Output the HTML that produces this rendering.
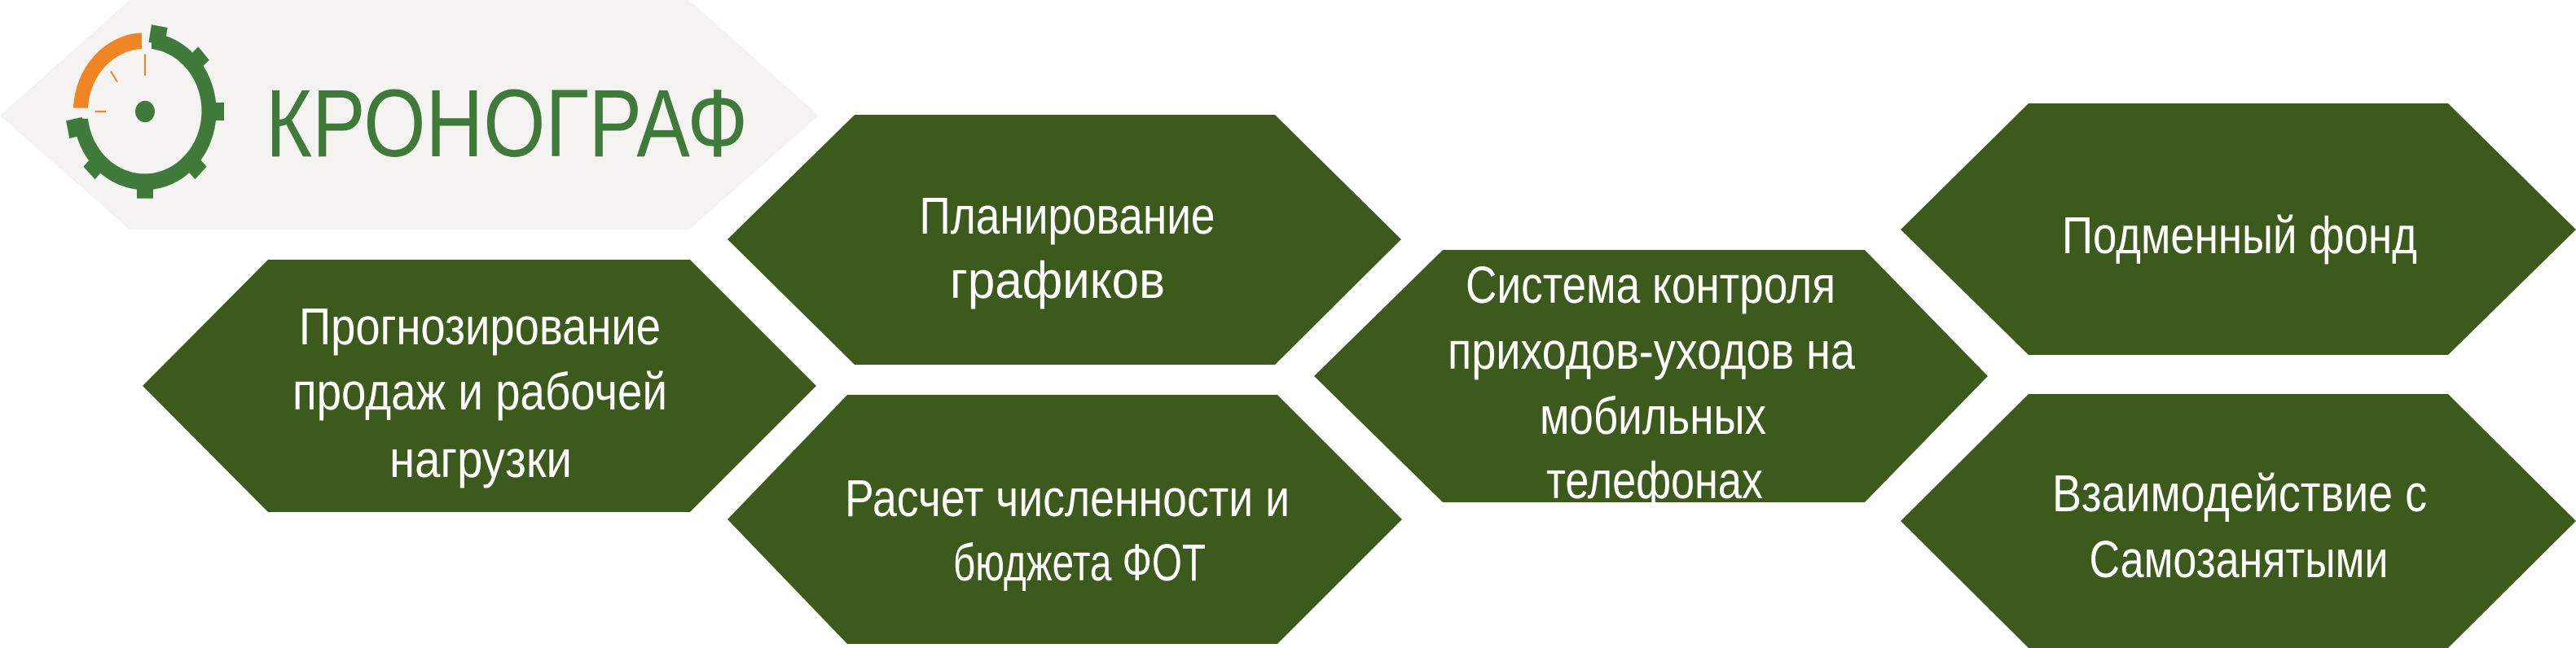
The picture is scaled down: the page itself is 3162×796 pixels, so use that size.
<!DOCTYPE html>
<html><head><meta charset="utf-8"><style>
html,body{margin:0;padding:0;background:#fff;}
svg{display:block}
</style></head><body>
<svg width="3162" height="796" viewBox="0 0 3162 796" xmlns="http://www.w3.org/2000/svg">
<polygon points="0,142 159,0 846,0 1005,142 846,282 159,282" fill="#f4f3f1"/>
<!-- gear -->
<g transform="translate(178,137) scale(1,1.1)">
  <g fill="#3f7a3a">
    <rect x="-9" y="-97" width="20" height="20" transform="rotate(10)"/>
    <rect x="-10" y="-97" width="20" height="20" transform="rotate(48)"/>
    <rect x="-10" y="-97" width="20" height="20" transform="rotate(90)"/>
    <rect x="-10" y="-97" width="20" height="20" transform="rotate(135)"/>
    <rect x="-10" y="-97" width="20" height="20" transform="rotate(180)"/>
    <rect x="-10" y="-97" width="20" height="20" transform="rotate(225)"/>
    <rect x="-10" y="-97" width="20" height="20" transform="rotate(258)"/>
  </g>
  <path d="M 8 -88 A 88 88 0 1 1 -88 8 L -70 8 A 70 70 0 1 0 8 -70 Z" fill="#3f7a3a"/>
  <path d="M -88 -4 A 88 88 0 0 1 -4 -88 L -4 -70 A 70 70 0 0 0 -70 -4 Z" fill="#ef8523"/>
  <ellipse cx="0" cy="0" rx="12" ry="12" fill="#3f7a3a"/>
  <line x1="0" y1="-64" x2="0" y2="-40" stroke="#ef8523" stroke-width="2"/>
  <line x1="-42" y1="-45" x2="-34" y2="-33" stroke="#ef8523" stroke-width="2"/>
  <line x1="-61" y1="0" x2="-48" y2="0" stroke="#ef8523" stroke-width="2"/>
</g>
<text x="326" y="192" font-family="Liberation Sans, sans-serif" font-size="118" fill="#3f7a3a" textLength="592" lengthAdjust="spacingAndGlyphs">КРОНОГРАФ</text>

<g fill="#3b5a1c">
<polygon points="175,474 329,319 847,319 1002,474 847,629 329,629"/>
<polygon points="893,294 1049,141 1565,141 1720,294 1565,448 1049,448"/>
<polygon points="893,638 1040,485 1568,485 1721,638 1568,791 1040,791"/>
<polygon points="1613,462 1771,307 2289,307 2440,462 2289,617 1771,617"/>
<polygon points="2333,282 2490,127 3005,127 3162,282 3005,436 2490,436"/>
<polygon points="2333,640 2490,484 3005,484 3162,640 3005,796 2490,796"/>
</g>
<g font-family="Liberation Sans, sans-serif" font-size="64" fill="#fff" text-anchor="middle">
<text x="589" y="423" textLength="444" lengthAdjust="spacingAndGlyphs">Прогнозирование</text>
<text x="589" y="503" textLength="460" lengthAdjust="spacingAndGlyphs">продаж и рабочей</text>
<text x="590" y="586" textLength="224" lengthAdjust="spacingAndGlyphs">нагрузки</text>

<text x="1310" y="287" textLength="363" lengthAdjust="spacingAndGlyphs">Планирование</text>
<text x="1298" y="366" textLength="264" lengthAdjust="spacingAndGlyphs">графиков</text>

<text x="1310" y="634" textLength="546" lengthAdjust="spacingAndGlyphs">Расчет численности и</text>
<text x="1325" y="713" textLength="310" lengthAdjust="spacingAndGlyphs">бюджета ФОТ</text>

<text x="2026" y="372" textLength="454" lengthAdjust="spacingAndGlyphs">Система контроля</text>
<text x="2027" y="453" textLength="500" lengthAdjust="spacingAndGlyphs">приходов-уходов на</text>
<text x="2029" y="533" textLength="278" lengthAdjust="spacingAndGlyphs">мобильных</text>
<text x="2031" y="612" textLength="266" lengthAdjust="spacingAndGlyphs">телефонах</text>

<text x="2749" y="311" textLength="436" lengthAdjust="spacingAndGlyphs">Подменный фонд</text>

<text x="2749" y="628" textLength="460" lengthAdjust="spacingAndGlyphs">Взаимодействие с</text>
<text x="2748" y="709" textLength="367" lengthAdjust="spacingAndGlyphs">Самозанятыми</text>
</g>
</svg>
</body></html>
